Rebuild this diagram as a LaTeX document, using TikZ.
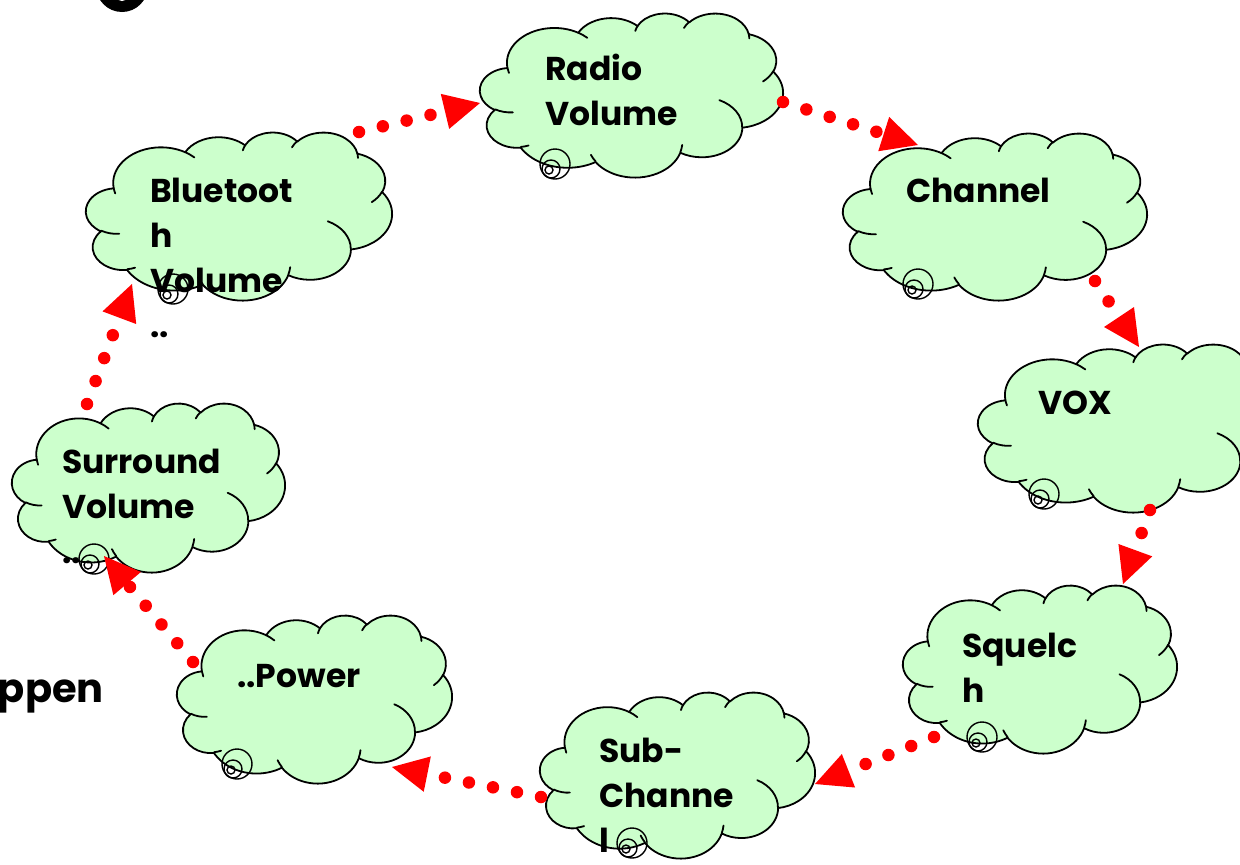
\documentclass[tikz,border=0pt]{standalone}
\usepackage{fontspec}
\setmainfont{Poppins}
\usetikzlibrary{arrows.meta}
\definecolor{cloudgreen}{HTML}{CCFFCC}
\definecolor{flowred}{HTML}{FF0000}
\tikzset{
 ooarc/.style n args={4}{insert path={arc[x radius=#1, y radius=#2,
   start angle={atan2((#1)*sin(#3),(#2)*cos(#3))},
   delta angle={mod(atan2((#1)*sin((#3)+(#4)),(#2)*cos((#3)+(#4)))-atan2((#1)*sin(#3),(#2)*cos(#3))+720,360)}]}},
 cloudbody/.style={fill=cloudgreen, draw=black, line width=1.8pt, line join=round},
 cloudline/.style={draw=black, line width=1.8pt, line cap=round},
 bubble/.style={draw=black, line width=1.4pt},
 lbl/.style={font=\bfseries\fontsize{33}{45}\selectfont, align=left, inner sep=0pt, anchor=base west},
 biglbl/.style={font=\bfseries\fontsize{40}{45}\selectfont, inner sep=0pt, anchor=base east},
 flow/.style={draw=flowred, line width=12.5pt, line cap=round, dash pattern=on 0pt off 24.5pt,
   -{Triangle[length=36pt, width=36pt, line width=0pt]}},
}
\newcommand\ooCloud[4]{%
\begin{scope}[shift={(#1,#2)}, xscale=#3/43.2, yscale=#4/43.2]
 \path[cloudbody] (3.900,14.370)
  [ooarc={6.753}{9.190}{-190.4875}{123.7805}]
  [ooarc={5.333}{7.267}{-144.1024}{89.9452}]
  [ooarc={4.365}{5.945}{-145.8079}{99.7230}]
  [ooarc={4.857}{6.595}{-130.9861}{117.2417}]
  [ooarc={5.333}{7.273}{-78.7089}{109.0269}]
  [ooarc={6.775}{9.220}{-46.2673}{130.2690}]
  [ooarc={5.785}{7.867}{0.6250}{114.0333}]
  [ooarc={6.752}{9.215}{22.4516}{115.1726}]
  [ooarc={7.720}{10.543}{66.2426}{75.7110}]
  [ooarc={4.360}{5.918}{-274.9421}{146.7356}]
  [ooarc={4.345}{5.945}{-246.8285}{152.5189}]
  -- cycle;
 \draw[cloudline] (4.693,26.177) [ooarc={4.345}{5.945}{86.742}{26.4295}]
   (6.928,34.899) [ooarc={4.360}{5.918}{73.6105}{11.4475}]
   (16.478,39.090) [ooarc={6.752}{9.215}{137.6242}{14.0811}]
   (28.827,34.751) [ooarc={6.752}{9.215}{6.4533}{15.9984}]
   (34.129,22.954) [ooarc={5.785}{7.867}{-70.2924}{70.9174}]
   (41.798,15.354) [ooarc={5.333}{7.273}{30.3180}{27.7515}]
   (38.324,5.426) [ooarc={4.857}{6.595}{-13.7443}{14.8589}]
   (29.078,3.952) [ooarc={4.857}{6.595}{-149.1815}{18.1954}]
   (22.141,4.720) [ooarc={4.365}{5.945}{-163.4943}{17.6864}]
   (14.000,5.192) [ooarc={6.753}{9.190}{-66.7070}{12.3194}]
   (4.127,15.789) [ooarc={6.753}{9.190}{157.6544}{11.8582}];
\end{scope}}
\newcommand\bubbles[2]{%
 \draw[bubble] (#1+6,#2-5) circle[radius=15];
 \draw[bubble] (#1+2,#2) circle[radius=9];
 \draw[bubble] (#1,#2+1) circle[radius=4];}
\begin{document}
\begin{tikzpicture}[x=1pt, y=-1pt]
\useasboundingbox (0,0) rectangle (1240,865);
\fill[white] (0,0) rectangle (1240,865);
% partial shape at top edge
\fill[black] (122,-14) ellipse[x radius=26, y radius=26];
\fill[white] (122,-10) ellipse[x radius=8, y radius=11];
% clouds
\ooCloud{480}{13}{303}{164}
\ooCloud{843}{133}{304}{167}
\ooCloud{978}{344}{303}{168}
\ooCloud{903}{585}{274}{168}
\ooCloud{540}{692}{275}{166}
\ooCloud{177}{615}{275}{168}
\ooCloud{12}{403}{273}{169}
\ooCloud{86}{132}{306}{168}
% callout bubbles
\bubbles{549}{169}
\bubbles{912}{289}
\bubbles{1038}{499}
\bubbles{976}{742}
\bubbles{626}{848}
\bubbles{231}{769}
\bubbles{88}{564}
\bubbles{167}{294}
% labels (anchor is the baseline of the last line)
\node[lbl] (radio) at (545,125) {Radio\\Volume};
\node[lbl] (channel) at (906,202) {Channel};
\node[lbl] (vox) at (1038,414) {VOX};
\node[lbl] (squelch) at (962,702) {Squelc\\h};
\node[lbl] (sub) at (599,852) {Sub-\\Channe\\l};
\node[lbl] (power) at (237,687) {..Power};
\node[lbl] (surround) at (62,563) {Surround\\Volume\\..};
\node[lbl] (bluetooth) at (150,337) {Bluetoot\\h\\Volume\\..};
\node[biglbl] (ppen) at (104,702) {ppen};
% connector end points
\coordinate (a1s) at (359,132); \coordinate (a1e) at (480,103);
\coordinate (a2s) at (783,102); \coordinate (a2e) at (918,145);
\coordinate (a3s) at (1095,281); \coordinate (a3e) at (1139,347);
\coordinate (a4s) at (1150,510); \coordinate (a4e) at (1123,584);
\coordinate (a5s) at (934,737); \coordinate (a5e) at (815,784);
\coordinate (a6s) at (541,797); \coordinate (a6e) at (392,767);
\coordinate (a7s) at (193,662); \coordinate (a7e) at (104,556);
\coordinate (a8s) at (87,404); \coordinate (a8e) at (132,284);
\draw[flow] (a1s) -- (a1e);
\draw[flow] (a2s) -- (a2e);
\draw[flow] (a3s) -- (a3e);
\draw[flow] (a4s) -- (a4e);
\draw[flow] (a5s) -- (a5e);
\draw[flow] (a6s) -- (a6e);
\draw[flow] (a7s) -- (a7e);
\draw[flow] (a8s) -- (a8e);
\end{tikzpicture}
\end{document}
